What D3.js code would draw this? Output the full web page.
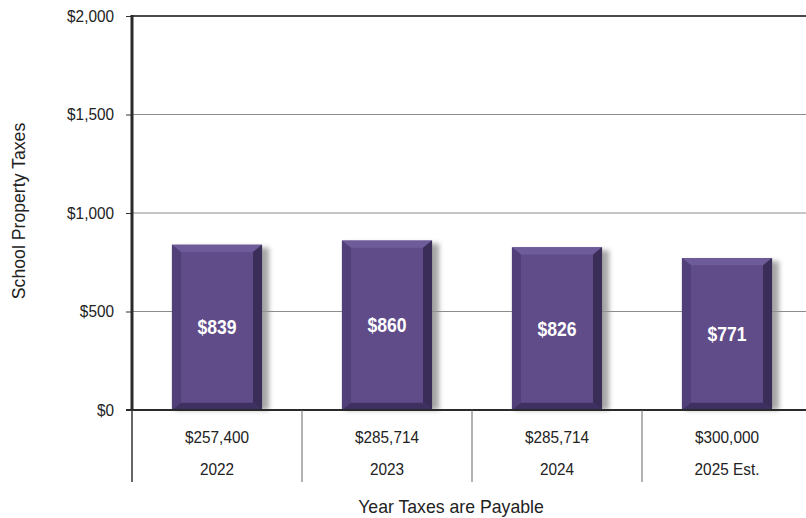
<!DOCTYPE html>
<html><head><meta charset="utf-8">
<script src="https://cdn.jsdelivr.net/npm/d3@7"></script>
<style>
body{margin:0;background:#fff;}
text{font-family:"Liberation Sans Narrow","Arial Narrow","Liberation Sans",Arial,sans-serif;}
</style></head>
<body><svg id="c" width="806" height="518"></svg>
<script>
const years = ["2022","2023","2024","2025 Est."];
const homeValues = ["$257,400","$285,714","$285,714","$300,000"];
const taxes = [839, 860, 826, 771];
const yTicks = [0, 500, 1000, 1500, 2000];

(function(){
const svg = d3.select("#c");
const pL = 132, pR = 812, pT = 16, pB = 410;
const x = d3.scaleBand().domain(years).range([pL, pR]).paddingInner(0.47).paddingOuter(0.235);
const y = d3.scaleLinear().domain([0, 2000]).range([pB, pT]);
const fmt = d => "$" + d3.format(",")(d);
const condense = (sel, k) => sel.each(function(){
  const L = this.getComputedTextLength();
  d3.select(this).attr("textLength", L * k).attr("lengthAdjust", "spacingAndGlyphs");
});

const defs = svg.append("defs");
const f = defs.append("filter").attr("id","blur").attr("x","-20%").attr("y","-20%").attr("width","140%").attr("height","140%");
f.append("feGaussianBlur").attr("stdDeviation", 2.5);

// gridlines
svg.append("g").selectAll("line").data(yTicks.filter(d => d > 0 && d < 2000)).join("line")
  .attr("x1", pL).attr("x2", 806).attr("y1", d => y(d)).attr("y2", d => y(d))
  .attr("stroke", "#8c8c8c").attr("stroke-width", 1);
// top border
svg.append("line").attr("x1", pL).attr("x2", 806).attr("y1", y(2000)).attr("y2", y(2000))
  .attr("stroke", "#4a4a4a").attr("stroke-width", 2.2);

// y axis
const yAxis = svg.append("g").attr("transform", `translate(${pL},0)`)
  .call(d3.axisLeft(y).tickValues(yTicks).tickFormat(fmt).tickSize(6).tickPadding(12));
yAxis.select(".domain").remove();
yAxis.selectAll(".tick line").attr("stroke", "#333");
yAxis.selectAll(".tick text").attr("font-size", 16.5).attr("fill", "#222").call(condense, 0.93);

// bars
const b = 9;
const bars = svg.append("g").selectAll("g").data(taxes).join("g");
bars.each(function(v, i) {
  const g = d3.select(this);
  const x0 = x(years[i]), x1 = x0 + x.bandwidth(), y0 = y(v), y1 = y(0);
  g.append("rect").attr("x", x0 + 3).attr("y", y0 + 3).attr("width", x1 - x0 + 4).attr("height", y1 - y0 - 3)
    .attr("fill", "#8f8f8f").attr("opacity", 0.8).attr("filter", "url(#blur)");
  const poly = pts => g.append("polygon").attr("points", pts.map(p => p.join(",")).join(" "));
  g.append("rect").attr("x", x0).attr("y", y0).attr("width", x1 - x0).attr("height", y1 - y0).attr("fill", "#5f4c89");
  poly([[x0,y0],[x1,y0],[x1-b,y0+b*0.8],[x0+b,y0+b*0.8]]).attr("fill", "#6e5b9a");
  poly([[x0,y0],[x0+b,y0+b*0.8],[x0+b,y1-b*0.8],[x0,y1]]).attr("fill", "#503f79");
  poly([[x1,y0],[x1,y1],[x1-b,y1-b*0.8],[x1-b,y0+b*0.8]]).attr("fill", "#3a2d57");
  poly([[x0,y1],[x0+b,y1-b*0.8],[x1-b,y1-b*0.8],[x1,y1]]).attr("fill", "#3e3162");
  g.append("text").attr("x", (x0 + x1) / 2).attr("y", y(v / 2) + 7)
    .attr("text-anchor", "middle").attr("font-weight", "bold").attr("font-size", 19.5)
    .attr("fill", "#fff").text(fmt(v)).call(condense, 0.9);
});

// baseline
svg.append("line").attr("x1", pL - 6).attr("x2", 806).attr("y1", pB).attr("y2", pB)
  .attr("stroke", "#2a2a2a").attr("stroke-width", 2.2);
// left axis line
svg.append("line").attr("x1", pL).attr("x2", pL).attr("y1", pT - 1).attr("y2", pB)
  .attr("stroke", "#2a2a2a").attr("stroke-width", 3);

// table below
const tableBottom = 482;
svg.append("line").attr("x1", pL).attr("x2", pL).attr("y1", pB).attr("y2", tableBottom)
  .attr("stroke", "#333").attr("stroke-width", 1.5);
svg.append("g").selectAll("line").data(years.slice(1)).join("line")
  .attr("x1", d => x(d) - x.step() * x.paddingInner() / 2).attr("x2", d => x(d) - x.step() * x.paddingInner() / 2)
  .attr("y1", pB).attr("y2", tableBottom).attr("stroke", "#666").attr("stroke-width", 1);
svg.append("g").selectAll("text").data(homeValues).join("text")
  .attr("x", (d, i) => x(years[i]) + x.bandwidth() / 2).attr("y", 443)
  .attr("text-anchor", "middle").attr("font-size", 16.5).attr("fill", "#222").text(d => d).call(condense, 0.93);
svg.append("g").selectAll("text").data(years).join("text")
  .attr("x", d => x(d) + x.bandwidth() / 2).attr("y", 475)
  .attr("text-anchor", "middle").attr("font-size", 16.5).attr("fill", "#222").text(d => d).call(condense, 0.93);

// titles
svg.append("text").attr("x", 451).attr("y", 513).attr("text-anchor", "middle")
  .attr("font-size", 19).attr("fill", "#222").text("Year Taxes are Payable").call(condense, 0.93);
svg.append("text").attr("transform", "translate(25,211) rotate(-90)").attr("text-anchor", "middle")
  .attr("font-size", 19).attr("fill", "#222").text("School Property Taxes").call(condense, 0.93);
})();
</script></body></html>
